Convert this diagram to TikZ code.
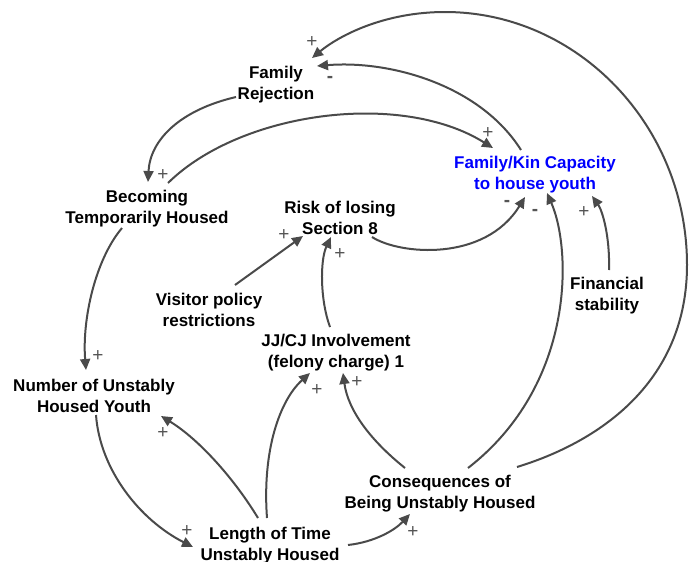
\documentclass[tikz,border=0pt]{standalone}
\usepackage{fontspec}
\setmainfont{Liberation Sans}
\usetikzlibrary{arrows.meta,calc}
\definecolor{linegray}{HTML}{4A4A4A}
\definecolor{signgray}{HTML}{555555}
\definecolor{kinblue}{HTML}{0000FF}
\begin{document}
\begin{tikzpicture}[x=1pt,y=-1pt,
  var/.style={inner sep=0pt,align=center,font=\fontsize{17}{21}\selectfont\bfseries},
  sign/.style={inner sep=0pt,text=signgray,font=\fontsize{19}{19}\selectfont},
  neg/.style={inner sep=0pt,text=signgray,font=\fontsize{19}{19}\selectfont\bfseries},
  link/.style={draw=linegray,line width=2pt,-{Triangle[length=11pt,width=10pt]}}]
\useasboundingbox (0,0) rectangle (691,562);
% variables
\node[var] (fr) at (276,85) {Family\\Rejection};
\node[var,text=kinblue] (fk) at (535,175) {Family/Kin Capacity\\to house youth};
\node[var] (bt) at (147,209) {Becoming\\Temporarily Housed};
\node[var] (rs) at (340,218) {Risk of losing\\Section 8};
\node[var] (vp) at (209,310) {Visitor policy\\restrictions};
\node[var] (fs) at (607,296) {Financial\\stability};
\node[var] (jj) at (336,353) {JJ/CJ Involvement\\(felony charge) 1};
\node[var] (nu) at (94,396) {Number of Unstably\\Housed Youth};
\node[var] (co) at (440,494) {Consequences of\\Being Unstably Housed};
\node[var] (lt) at (270,546) {Length of Time\\Unstably Housed};
% links
\draw[link] ($(co)+(77,-27)$) .. controls (605,440) and (687,378) .. (687,265)
  .. controls (687,126) and (578,12) .. (445,12)
  .. controls (385,12) and (340,35) .. ($(fr)+(36,-27)$);
\draw[link] ($(fk)+(-14,-25)$) .. controls (480,85) and (390,60) .. ($(fr)+(41,-19)$);
\draw[link] ($(fr)+(-40,12)$) .. controls (180,110) and (150,140) .. ($(bt)+(1,-27)$);
\draw[link] ($(bt)+(21,-26)$) .. controls (240,112) and (400,90) .. ($(fk)+(-42,-27)$);
\draw[link] ($(bt)+(-25,19)$) .. controls (95,260) and (82,320) .. ($(nu)+(-8,-26)$);
\draw[link] ($(nu)+(2,19)$) .. controls (100,470) and (140,520) .. ($(lt)+(-77,1)$);
\draw[link] ($(lt)+(-12,-28)$) .. controls (235,480) and (200,440) .. ($(nu)+(67,20)$);
\draw[link] ($(lt)+(-3,-28)$) .. controls (262,450) and (280,400) .. ($(jj)+(-26,20)$);
\draw[link] ($(lt)+(78,-1)$) .. controls (375,542) and (395,530) .. ($(co)+(-30,20)$);
\draw[link] ($(co)+(-35,-26)$) .. controls (370,440) and (348,410) .. ($(jj)+(7,20)$);
\draw[link] ($(co)+(28,-26)$) .. controls (575,385) and (572,250) .. ($(fk)+(12,18)$);
\draw[link] ($(rs)+(32,19)$) .. controls (400,255) and (485,262) .. ($(fk)+(-10,22)$);
\draw[link] ($(fs)+(2,-26)$) .. controls (610,235) and (602,210) .. ($(fk)+(57,21)$);
\draw[link] ($(vp)+(26,-25)$) -- ($(rs)+(-37,18)$);
\draw[link] ($(jj)+(-6,-26)$) .. controls (320,300) and (320,260) .. ($(rs)+(-9,19)$);
% polarities
\node[sign] (p1) at (312,42) {+};
\node[neg] (p2) at (330,79) {-};
\node[sign] (p3) at (163,175) {+};
\node[sign] (p4) at (488,133) {+};
\node[sign] (p5) at (98,356) {+};
\node[sign] (p6) at (187,531) {+};
\node[sign] (p7) at (163,433) {+};
\node[sign] (p8) at (317,390) {+};
\node[sign] (p9) at (413,532) {+};
\node[sign] (p10) at (357,382) {+};
\node[neg] (p11) at (535,212) {-};
\node[neg] (p12) at (507,203) {-};
\node[sign] (p13) at (584,212) {+};
\node[sign] (p14) at (284,235) {+};
\node[sign] (p15) at (340,254) {+};
\end{tikzpicture}
\end{document}
